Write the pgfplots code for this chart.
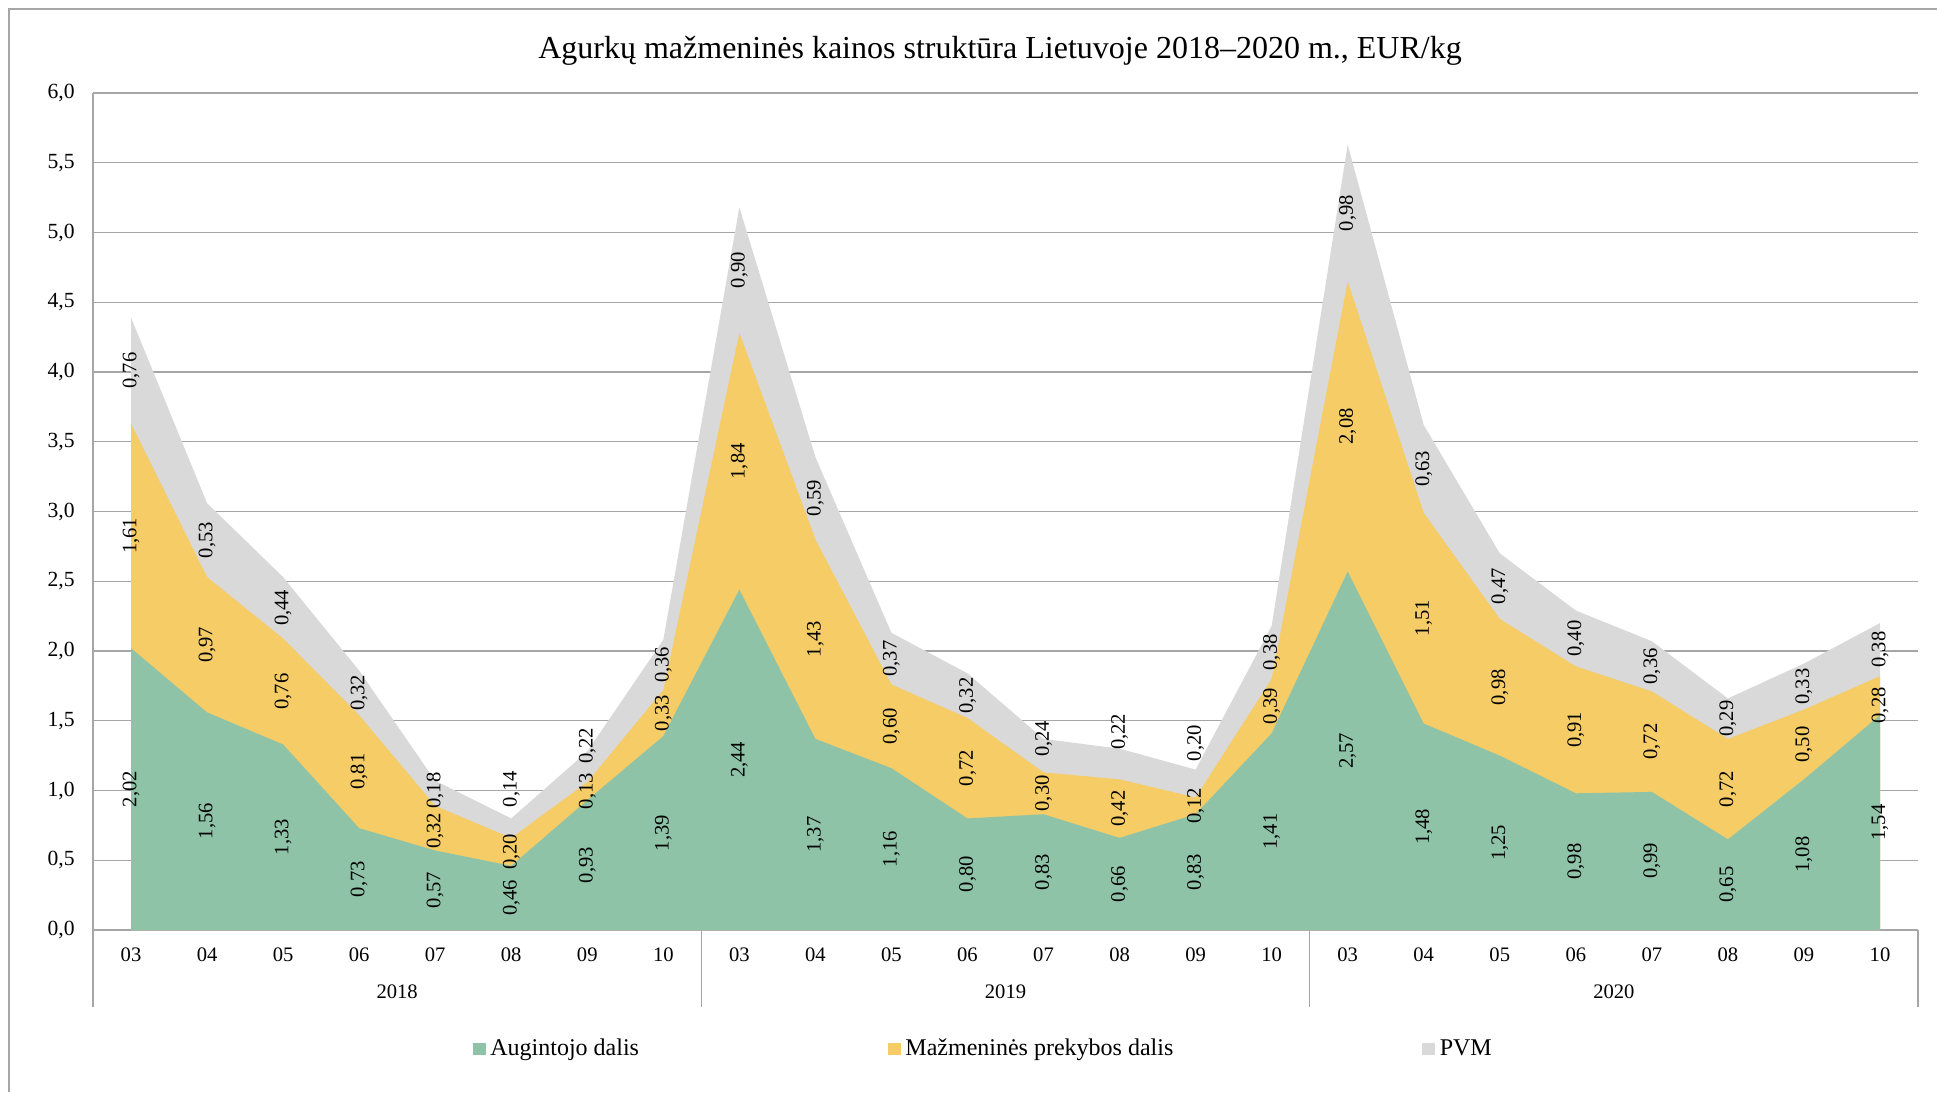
\documentclass[border=0pt]{standalone}
\usepackage{fontspec}
\setmainfont{Liberation Serif}
\usepackage{graphicx}
\usepackage{pgfplots}
\pgfplotsset{compat=1.18}
\usepackage{pgfplotstable}

\definecolor{cGreen}{RGB}{142,195,168}
\definecolor{cYellow}{RGB}{245,204,102}
\definecolor{cGrey}{RGB}{217,217,217}
\definecolor{gridc}{RGB}{166,166,166}

\pgfplotstableread{
i a b c da db dc
0 2.02 1.61 0.76 0 0 0
1 1.56 0.97 0.53 0 0 0
2 1.33 0.76 0.44 0 0 0
3 0.73 0.81 0.32 0 0 0
4 0.57 0.32 0.18 0 -0.02 0.02
5 0.46 0.20 0.14 0 0 0.28
6 0.93 0.13 0.22 0 0 0.15
7 1.39 0.33 0.36 0 0 0
8 2.44 1.84 0.90 0 0 0
9 1.37 1.43 0.59 0 0 0
10 1.16 0.60 0.37 0 0 0
11 0.80 0.72 0.32 0 0 0
12 0.83 0.30 0.24 0 0 0.12
13 0.66 0.42 0.22 0 0 0.23
14 0.83 0.12 0.20 0 0 0.29
15 1.41 0.39 0.38 0 0 0
16 2.57 2.08 0.98 0 0 0
17 1.48 1.51 0.63 0 0 0
18 1.25 0.98 0.47 0 0 0
19 0.98 0.91 0.40 0 0 0
20 0.99 0.72 0.36 0 0 0
21 0.65 0.72 0.29 0 0 0
22 1.08 0.50 0.33 0 0 0
23 1.54 0.28 0.38 0 -0.07 0
}\data

\pgfplotsset{
  lbl/.style={draw=none, mark=none, forget plot,
    nodes near coords={\rotatebox{90}{\pgfmathprintnumber[fixed,fixed zerofill,precision=2,use comma,assume math mode=true]{\pgfplotspointmeta}}},
    every node near coord/.append style={anchor=center, text=black, fill=none, draw=none, inner sep=0pt,
      font=\fontsize{10.3}{12}\selectfont},
  }
}

\begin{document}
\begin{tikzpicture}
\useasboundingbox (0,0) rectangle (968.5pt,-546pt);
\draw[gridc, line width=0.6pt] (4.5pt,-546pt) -- (4.5pt,-4.5pt) -- (968.5pt,-4.5pt);
\node[font=\fontsize{16}{19}\selectfont, anchor=base] at (500pt,-29pt) {Agurkų mažmeninės kainos struktūra Lietuvoje 2018–2020 m., EUR/kg};
\begin{axis}[
  at={(46.5pt,-465pt)}, anchor=south west,
  scale only axis, width=912.5pt, height=418.5pt,
  xmin=-0.5, xmax=23.5, ymin=0, ymax=6,
  enlargelimits=false,
  clip=false,
  axis x line*=bottom, axis y line*=left,
  axis line style={gridc, line width=0.6pt},
  ymajorgrids, grid style={gridc, line width=0.6pt},
  major tick length=0pt,
  xtick={0,...,23},
  xticklabels={03,04,05,06,07,08,09,10,03,04,05,06,07,08,09,10,03,04,05,06,07,08,09,10},
  ytick={0,0.5,1,1.5,2,2.5,3,3.5,4,4.5,5,5.5,6},
  yticklabel style={/pgf/number format/fixed, /pgf/number format/fixed zerofill, /pgf/number format/precision=1, /pgf/number format/use comma, /pgf/number format/assume math mode=true,
    anchor=east, inner sep=0pt, xshift=-9pt, font=\fontsize{10.8}{12}\selectfont},
  xticklabel style={anchor=center, inner sep=0pt, yshift=-12.5pt, font=\fontsize{10.3}{12}\selectfont},
  point meta=explicit,
  legend columns=3,
  legend style={at={(0.2082,-0.1422)}, anchor=west, draw=none, fill=none, inner sep=0pt, outer sep=0pt,
    font=\fontsize{12}{14}\selectfont, nodes={inner sep=1.5pt},
    /tikz/every even column/.append style={column sep=123pt},
    /tikz/every odd column/.append style={column sep=1pt}},
]
% areas: total, then retail+grower, then grower (opaque, drawn over)
\addplot[fill=cGrey, draw=none, forget plot]
  table[x=i, y expr=\thisrow{a}+\thisrow{b}+\thisrow{c}]{\data} \closedcycle;
\addplot[fill=cYellow, draw=none, forget plot]
  table[x=i, y expr=\thisrow{a}+\thisrow{b}]{\data} \closedcycle;
\addplot[fill=cGreen, draw=none, forget plot]
  table[x=i, y=a]{\data} \closedcycle;
% data labels at the middle of each band
\addplot[lbl] table[x=i, y expr=0.5*\thisrow{a}+\thisrow{da}, meta=a]{\data};
\addplot[lbl] table[x=i, y expr=\thisrow{a}+0.5*\thisrow{b}+\thisrow{db}, meta=b]{\data};
\addplot[lbl] table[x=i, y expr=\thisrow{a}+\thisrow{b}+0.5*\thisrow{c}+\thisrow{dc}, meta=c]{\data};
% legend
\addlegendimage{legend image code/.code={\fill[cGreen] (0pt,-2.9pt) rectangle (5.8pt,2.9pt);}}
\addlegendentry{Augintojo dalis}
\addlegendimage{legend image code/.code={\fill[cYellow] (0pt,-2.9pt) rectangle (5.8pt,2.9pt);}}
\addlegendentry{Mažmeninės prekybos dalis}
\addlegendimage{legend image code/.code={\fill[cGrey] (0pt,-2.9pt) rectangle (5.8pt,2.9pt);}}
\addlegendentry{PVM}
\draw[gridc, line width=0.6pt] (axis cs:-0.5,0) -- ++(0pt,-38.5pt);
\draw[gridc, line width=0.6pt] (axis cs:7.5,0) -- ++(0pt,-38.5pt);
\draw[gridc, line width=0.6pt] (axis cs:15.5,0) -- ++(0pt,-38.5pt);
\draw[gridc, line width=0.6pt] (axis cs:23.5,0) -- ++(0pt,-38.5pt);
\node[font=\fontsize{10.3}{12}\selectfont, yshift=-31pt] at (axis cs:3.5,0) {2018};
\node[font=\fontsize{10.3}{12}\selectfont, yshift=-31pt] at (axis cs:11.5,0) {2019};
\node[font=\fontsize{10.3}{12}\selectfont, yshift=-31pt] at (axis cs:19.5,0) {2020};
\end{axis}
\end{tikzpicture}
\end{document}
